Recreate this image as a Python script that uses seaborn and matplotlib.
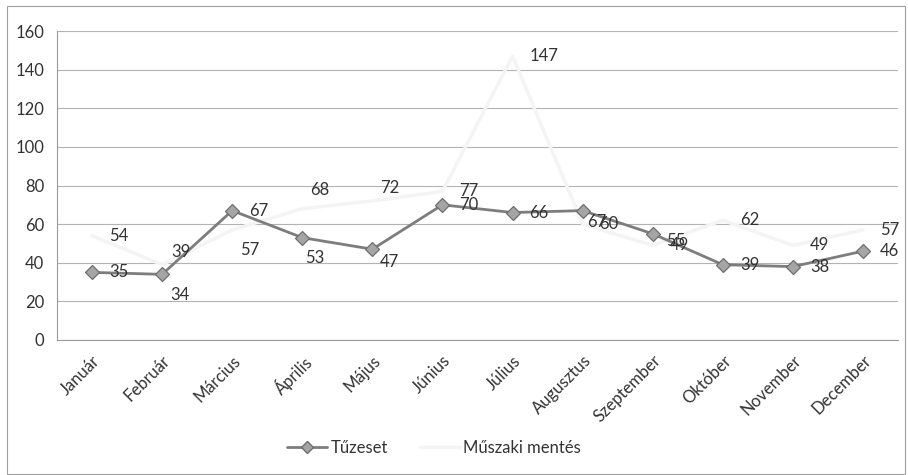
import matplotlib
matplotlib.use("Agg")
import matplotlib.pyplot as plt
import seaborn as sns
import pandas as pd
import numpy as np
from matplotlib.patches import Rectangle
from matplotlib.lines import Line2D

months = ["Január", "Február", "Március", "Április", "Május", "Június",
          "Július", "Augusztus", "Szeptember", "Október", "November", "December"]
tuzeset = [35, 34, 67, 53, 47, 70, 66, 67, 55, 39, 38, 46]
muszaki = [54, 39, 57, 68, 72, 77, 147, 60, 49, 62, 49, 57]
series_names = ["Tűzeset", "Műszaki mentés"]
y_ticks = [0, 20, 40, 60, 80, 100, 120, 140, 160]

# label nudges in pixels (dx, dy), default right of point
default_off = (17, 0)
tuz_off = {1: (8, -21), 3: (3, -20), 4: (7, -13), 7: (5, -11), 8: (13, -7)}
mus_off = {1: (9, 13), 2: (8, -20), 3: (8, 19), 4: (8, 13)}

sns.set_theme(style="white")
plt.rcParams['font.family'] = ['Lato', 'DejaVu Sans']

FS = 12
TXT = "#333333"

fig = plt.figure(figsize=(9.08, 4.75), dpi=100)
ax = fig.add_axes([57/908, 1-340/475, (898-57)/908, (340-31)/475])

df = pd.DataFrame({"x": np.arange(len(months)), "Tűzeset": tuzeset, "Műszaki mentés": muszaki})

sns.lineplot(data=df, x="x", y="Műszaki mentés", ax=ax, color="#f4f4f4", lw=2.5, zorder=3)
sns.lineplot(data=df, x="x", y="Tűzeset", ax=ax, color="#7d7d7d", lw=2.0,
             marker="D", markersize=7, markerfacecolor="#a5a5a5",
             markeredgecolor="#6e6e6e", markeredgewidth=0.9, zorder=4)

ax.set_xlim(-0.5, 11.5)
ax.set_ylim(0, 160)
ax.set_yticks(y_ticks)
ax.set_yticklabels([str(v) for v in y_ticks], fontsize=FS, color=TXT)
ax.set_xticks(np.arange(len(months)))
ax.set_xticklabels(months, rotation=45, ha="right", rotation_mode="anchor",
                   fontsize=FS, color=TXT)
ax.tick_params(axis="x", length=0, pad=9)
ax.tick_params(axis="y", length=0, pad=9)
# boundary ticks
ax.set_xticks(np.arange(-0.5, 12, 1), minor=True)
ax.tick_params(axis="x", which="minor", length=4, color="#888888", width=0.8)
ax.set_xlabel("")
ax.set_ylabel("")
ax.yaxis.grid(True, color="#b3b3b3", lw=0.8)
ax.set_axisbelow(True)
for s in ["top", "right"]:
    ax.spines[s].set_visible(False)
ax.spines["left"].set_color("#9a9a9a")
ax.spines["left"].set_linewidth(0.8)
ax.spines["bottom"].set_color("#9a9a9a")
ax.spines["bottom"].set_linewidth(0.8)

def label(vals, offs):
    for i, v in enumerate(vals):
        dx, dy = offs.get(i, default_off)
        ax.annotate(str(v), (i, v), xytext=(dx, dy), textcoords="offset pixels",
                    ha="left", va="center", fontsize=FS, color=TXT, zorder=5)

label(tuzeset, tuz_off)
label(muszaki, mus_off)

handles = [Line2D([], [], color="#7d7d7d", lw=2.0, marker="D", markersize=6,
                  markerfacecolor="#a5a5a5", markeredgecolor="#6e6e6e"),
           Line2D([], [], color="#f4f4f4", lw=2.5)]
fig.legend(handles, series_names, loc="center", bbox_to_anchor=(434/908, 1-448/475),
           ncol=2, frameon=False, fontsize=FS, handlelength=2.4, columnspacing=1.9,
           handletextpad=0.2, labelcolor=TXT)

fig.patches.append(Rectangle((7/908, 1/475), 898/908, 468/475, transform=fig.transFigure,
                             fill=False, edgecolor="#a0a0a0", lw=0.8))

fig.savefig("out.png", dpi=100)
